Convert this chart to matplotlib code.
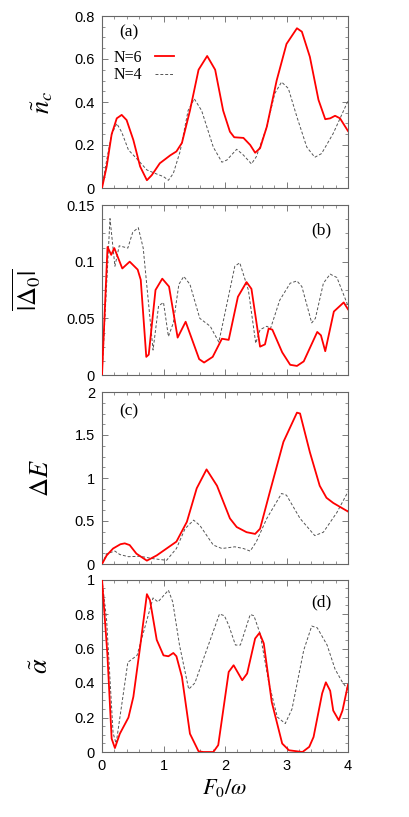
import matplotlib
matplotlib.use("Agg")
import matplotlib.pyplot as plt
from matplotlib.ticker import MultipleLocator, AutoMinorLocator

plt.rcParams['font.family'] = ['Liberation Sans', 'DejaVu Sans']
plt.rcParams['mathtext.fontset'] = 'stix'

# ---------------- data ----------------
# panel (a) n_c
a6_x = [0, 0.076, 0.157, 0.24, 0.32, 0.40, 0.51, 0.62, 0.73, 0.81, 0.94, 1.11, 1.21, 1.30, 1.43, 1.57,
        1.71, 1.84, 1.97, 2.08, 2.15, 2.30, 2.41, 2.49, 2.57, 2.68, 2.84, 3.0, 3.17, 3.25, 3.38, 3.52,
        3.63, 3.71, 3.79, 3.87, 4.0]
a6_y = [0, 0.10, 0.25, 0.324, 0.34, 0.316, 0.223, 0.10, 0.036, 0.06, 0.115, 0.152, 0.17, 0.21, 0.36, 0.55,
        0.614, 0.55, 0.36, 0.262, 0.236, 0.233, 0.20, 0.164, 0.185, 0.285, 0.50, 0.67, 0.743, 0.727, 0.61, 0.41,
        0.32, 0.324, 0.336, 0.324, 0.265]
a4_x = [0, 0.076, 0.157, 0.24, 0.32, 0.43, 0.56, 0.73, 0.89, 1.0, 1.08, 1.16, 1.27, 1.40, 1.50, 1.62,
        1.81, 1.95, 2.03, 2.19, 2.30, 2.43, 2.51, 2.68, 2.81, 2.92, 3.03, 3.17, 3.33, 3.46, 3.57, 3.76, 4.0]
a4_y = [0, 0.13, 0.25, 0.30, 0.26, 0.177, 0.138, 0.084, 0.065, 0.053, 0.036, 0.068, 0.17, 0.36, 0.415, 0.36,
        0.19, 0.12, 0.13, 0.18, 0.153, 0.112, 0.146, 0.285, 0.44, 0.493, 0.463, 0.33, 0.19, 0.143, 0.16, 0.254, 0.405]

# panel (b) |Delta_0|
b6_x = [0, 0.09, 0.15, 0.20, 0.33, 0.45, 0.58, 0.63, 0.72, 0.76, 0.87, 0.98, 1.09, 1.23, 1.36, 1.58, 1.66,
        1.80, 1.95, 2.06, 2.21, 2.35, 2.43, 2.57, 2.65, 2.71, 2.77, 2.93, 3.06, 3.17, 3.28, 3.50, 3.56,
        3.63, 3.77, 3.93, 4.0]
b6_y = [0, 0.113, 0.106, 0.112, 0.094, 0.100, 0.093, 0.084, 0.016, 0.018, 0.075, 0.085, 0.078, 0.033, 0.047,
        0.014, 0.011, 0.016, 0.032, 0.031, 0.069, 0.082, 0.076, 0.025, 0.027, 0.041, 0.040, 0.020, 0.009,
        0.008, 0.012, 0.038, 0.035, 0.021, 0.056, 0.064, 0.058]
b4_x = [0, 0.13, 0.21, 0.28, 0.42, 0.50, 0.59, 0.67, 0.83, 0.92, 1.0, 1.08, 1.16, 1.25, 1.33, 1.43, 1.59,
        1.76, 1.90, 2.16, 2.24, 2.38, 2.50, 2.57, 2.68, 2.74, 2.89, 3.06, 3.17, 3.25, 3.41, 3.47, 3.60,
        3.71, 3.82, 4.0]
b4_y = [0, 0.138, 0.096, 0.114, 0.112, 0.126, 0.130, 0.112, 0.022, 0.061, 0.064, 0.034, 0.046, 0.080, 0.087,
        0.080, 0.050, 0.043, 0.029, 0.096, 0.099, 0.075, 0.028, 0.040, 0.043, 0.041, 0.066, 0.081, 0.083,
        0.078, 0.046, 0.050, 0.081, 0.089, 0.086, 0.061]

# panel (c) Delta E
c6_x = [0, 0.076, 0.18, 0.30, 0.37, 0.45, 0.56, 0.73, 0.89, 1.05, 1.21, 1.38, 1.54, 1.70, 1.87, 2.08, 2.19,
        2.35, 2.49, 2.57, 2.73, 2.95, 3.17, 3.22, 3.38, 3.54, 3.65, 3.76, 4.0]
c6_y = [0, 0.10, 0.18, 0.23, 0.24, 0.22, 0.12, 0.039, 0.10, 0.18, 0.26, 0.49, 0.88, 1.10, 0.91, 0.53, 0.43,
        0.37, 0.35, 0.41, 0.84, 1.42, 1.76, 1.75, 1.30, 0.91, 0.77, 0.71, 0.61]
c4_x = [0, 0.076, 0.21, 0.29, 0.43, 0.62, 0.83, 1.05, 1.21, 1.35, 1.49, 1.59, 1.81, 1.95, 2.16, 2.30, 2.41,
        2.51, 2.68, 2.92, 3.0, 3.22, 3.46, 3.60, 3.82, 4.0]
c4_y = [0, 0.12, 0.15, 0.11, 0.085, 0.09, 0.062, 0.043, 0.18, 0.41, 0.51, 0.45, 0.22, 0.18, 0.20, 0.18, 0.15,
        0.26, 0.53, 0.82, 0.80, 0.53, 0.33, 0.37, 0.60, 0.84]

# panel (d) alpha
d6_x = [0, 0.087, 0.157, 0.21, 0.29, 0.43, 0.51, 0.62, 0.73, 0.78, 0.89, 1.0, 1.08, 1.16, 1.21, 1.30, 1.43,
        1.57, 1.65, 1.81, 1.89, 2.06, 2.14, 2.28, 2.36, 2.49, 2.56, 2.63, 2.76, 2.93, 3.04, 3.26, 3.37,
        3.44, 3.58, 3.64, 3.71, 3.76, 3.85, 3.91, 4.0]
d6_y = [1.0, 0.57, 0.077, 0.023, 0.106, 0.20, 0.32, 0.61, 0.915, 0.88, 0.65, 0.56, 0.555, 0.574, 0.555, 0.435,
        0.106, 0.004, 0.0, 0.0, 0.04, 0.464, 0.503, 0.416, 0.455, 0.658, 0.69, 0.63, 0.29, 0.049, 0.01, 0.0,
        0.03, 0.087, 0.34, 0.404, 0.355, 0.24, 0.184, 0.24, 0.39]
d4_x = [0, 0.076, 0.18, 0.23, 0.42, 0.57, 0.83, 0.91, 1.08, 1.15, 1.26, 1.41, 1.51, 1.91, 1.99, 2.06, 2.17,
        2.25, 2.41, 2.47, 2.57, 2.71, 2.85, 2.98, 3.09, 3.28, 3.41, 3.50, 3.66, 3.79, 3.90, 4.0]
d4_y = [1.0, 0.76, 0.11, 0.049, 0.52, 0.56, 0.893, 0.87, 0.938, 0.87, 0.62, 0.364, 0.40, 0.80, 0.79, 0.735,
        0.62, 0.62, 0.797, 0.79, 0.687, 0.406, 0.203, 0.165, 0.25, 0.59, 0.73, 0.72, 0.62, 0.48, 0.41, 0.36]

panel_tags = ['(a)', '(b)', '(c)', '(d)']
ylabels = [r'$\tilde{n}_c$', r'$\overline{|\Delta_0|}$', r'$\Delta E$', r'$\tilde{\alpha}$']
legend_labels = ['N=6', 'N=4']

# ---------------- figure ----------------
fig = plt.figure(figsize=(4.09, 8.17), dpi=100)
W = 409.0
H = 817.0
left = 102 / W
width = 246 / W
boxes = [(16, 188), (205, 375), (392, 564), (579.5, 752)]
axes = []
for (t, b) in boxes:
    ax = fig.add_axes([left, 1 - b / H, width, (b - t) / H])
    axes.append(ax)

series = [(a6_x, a6_y, a4_x, a4_y), (b6_x, b6_y, b4_x, b4_y),
          (c6_x, c6_y, c4_x, c4_y), (d6_x, d6_y, d4_x, d4_y)]
ylims = [(0, 0.8), (0, 0.15), (0, 2), (0, 1)]
ymajor = [0.2, 0.05, 0.5, 0.2]

red = '#ff0000'
gray = '#555555'
frame = '#666666'

for i, ax in enumerate(axes):
    x6, y6, x4, y4 = series[i]
    l6, = ax.plot(x6, y6, color=red, lw=1.3, zorder=3)
    l4, = ax.plot(x4, y4, color=gray, lw=0.7, ls=(0, (3, 2)), zorder=2)
    ax.set_xlim(0, 4)
    ax.set_ylim(*ylims[i])
    ax.xaxis.set_major_locator(MultipleLocator(1))
    ax.xaxis.set_minor_locator(MultipleLocator(0.2))
    ax.yaxis.set_major_locator(MultipleLocator(ymajor[i]))
    ax.yaxis.set_minor_locator(AutoMinorLocator(4))
    ax.tick_params(which='both', direction='in', top=True, right=True, color=frame,
                   labelsize=10.5, pad=5)
    ax.tick_params(which='major', length=4, width=0.6)
    ax.tick_params(which='minor', length=2, width=0.5)
    for s in ax.spines.values():
        s.set_color(frame)
        s.set_linewidth(0.8)
    if i < 3:
        ax.tick_params(labelbottom=False)
    ax.set_ylabel(ylabels[i], fontsize=19)
    if i == 0:
        ax.legend([l6, l4], legend_labels, loc='upper left', bbox_to_anchor=(0.0, 0.87),
                  frameon=False, markerfirst=False, handlelength=1.2, handletextpad=0.8,
                  labelspacing=0.1, borderaxespad=0.3,
                  prop={'family': 'Liberation Serif', 'size': 11.5})

axes[0].set_yticks([0, 0.2, 0.4, 0.6, 0.8], ['0', '0.2', '0.4', '0.6', '0.8'])
axes[1].set_yticks([0, 0.05, 0.1, 0.15], ['0', '0.05', '0.1', '0.15'])
axes[2].set_yticks([0, 0.5, 1, 1.5, 2], ['0', '0.5', '1', '1.5', '2'])
axes[3].set_yticks([0, 0.2, 0.4, 0.6, 0.8, 1], ['0', '0.2', '0.4', '0.6', '0.8', '1'])
axes[3].set_xticks([0, 1, 2, 3, 4], ['0', '1', '2', '3', '4'])

label_x = [-0.19, -0.24, -0.20, -0.20]
for i, ax in enumerate(axes):
    ax.yaxis.set_label_coords(label_x[i], 0.5)

tag_pos = [(0.07, 0.905), (0.85, 0.85), (0.07, 0.89), (0.85, 0.87)]
for ax, tag, (tx, ty) in zip(axes, panel_tags, tag_pos):
    ax.text(tx, ty, tag, transform=ax.transAxes, fontsize=12.5,
            family='Liberation Serif', ha='left', va='center')

axes[3].set_xlabel(r'$F_0/\omega$', fontsize=16, labelpad=3)

fig.savefig('out.png', dpi=100)
